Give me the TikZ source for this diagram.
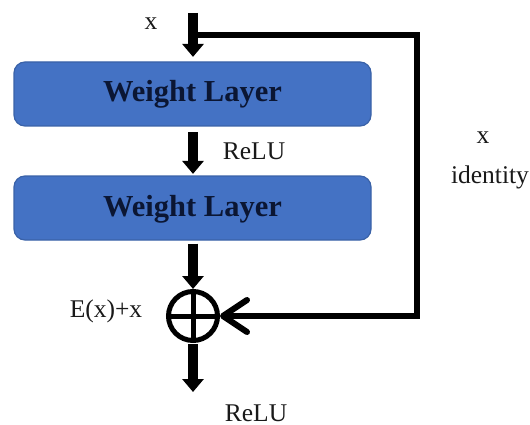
\documentclass[tikz,border=0pt]{standalone}
\usepackage{fontspec}
\setmainfont{Liberation Serif}
\usetikzlibrary{arrows.meta}
\definecolor{boxfill}{HTML}{4472C4}
\definecolor{boxline}{HTML}{3A62A8}
\definecolor{navy}{HTML}{0B1633}
\begin{document}
\begin{tikzpicture}[x=1pt,y=-1pt,
  wbox/.style={draw=boxline, fill=boxfill, line width=1.2pt, rounded corners=11pt,
    minimum width=357pt, minimum height=64pt, inner sep=0pt, text=navy,
    font=\fontsize{30.5}{34}\selectfont\bfseries, text height=16pt, text depth=0pt},
  lbl/.style={inner sep=0pt, anchor=base, text=black!90, font=\fontsize{25.5}{29}\selectfont},
  arr/.style={line width=10pt, -{Triangle[length=13pt,width=21pt]}},
  skipline/.style={line width=6pt, line join=miter, -{Straight Barb[length=24pt,width=32pt,round]}},
  sumnode/.style={circle, draw, line width=5pt, minimum size=49pt, inner sep=0pt}
]
\useasboundingbox (0,0) rectangle (530,425);

\node[wbox] (w1) at (192.5,94) {Weight Layer};
\node[wbox] (w2) at (192.5,208) {Weight Layer};
\node[sumnode] (sum) at (193,316) {};
\draw[line width=5pt] (sum.north) -- (sum.south);
\draw[line width=5pt] (sum.west) -- (sum.east);

\coordinate (in) at (193,13);
\coordinate (split) at (193,35);
\coordinate (corner) at (417,35);
\coordinate (out) at (193,392);

\draw[skipline] (split) -- (corner) |- (sum.east);

\draw[arr, shorten >=4.5pt] (in) -- (w1.north -| in);
\draw[arr, shorten <=5.5pt, shorten >=1.5pt] (w1.south -| in) -- (w2.north -| in);
\draw[arr, shorten <=3pt] (w2.south -| in) -- (sum.north);
\draw[arr, shorten <=1pt] (sum.south) -- (out);

\node[lbl] (lx) at (151,29.5) {x};
\node[lbl] (lrelu1) at (254,160) {ReLU};
\node[lbl] (lx2) at (483,144) {x};
\node[lbl] (lid) at (490,183) {identity};
\node[lbl] (lsum) at (106,317) {E(x)+x};
\node[lbl] (lrelu2) at (256,421) {ReLU};
\end{tikzpicture}
\end{document}
